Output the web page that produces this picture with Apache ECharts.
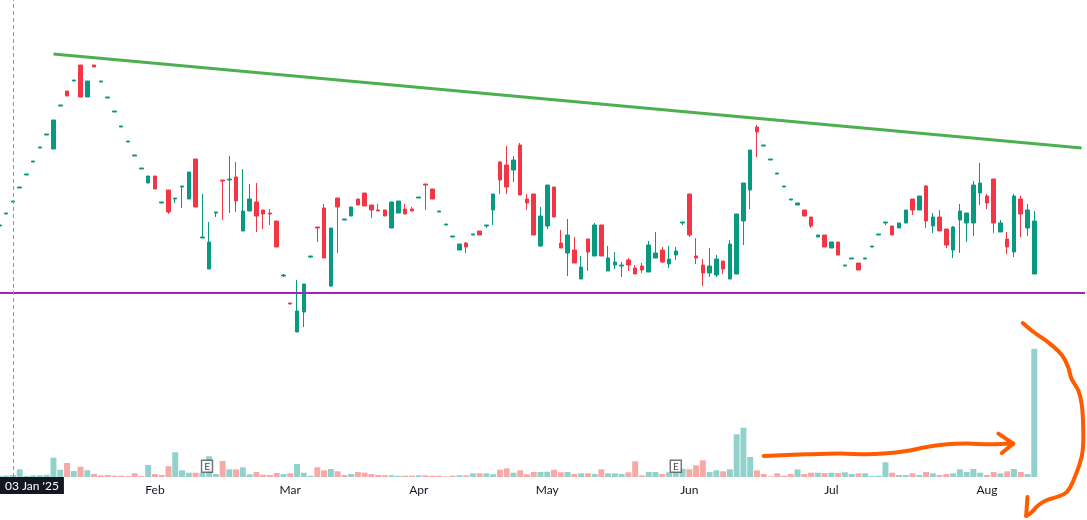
<!DOCTYPE html>
<html>
<head>
<meta charset="utf-8">
<script src="https://cdn.jsdelivr.net/npm/echarts@6/dist/echarts.min.js"></script>
<style>
html, body { margin: 0; padding: 0; background: #fff; }
#chart { width: 1087px; height: 520px; }
</style>
</head>
<body>
<div id="chart"></div>
<script>
// trading days per month (NSE calendar, incl. the Feb 1 budget session), last 7 are empty future slots
var monthDays = [
    ['2025-01', [1,2,3,6,7,8,9,10,13,14,15,16,17,20,21,22,23,24,27,28,29,30,31]],
    ['2025-02', [1,3,4,5,6,7,10,11,12,13,14,17,18,19,20,21,24,25,27,28]],
    ['2025-03', [3,4,5,6,7,10,11,12,13,17,18,19,20,21,24,25,26,27,28]],
    ['2025-04', [1,2,3,4,7,8,9,11,15,16,17,21,22,23,24,25,28,29,30]],
    ['2025-05', [2,5,6,7,8,9,12,13,14,15,16,19,20,21,22,23,26,27,28,29,30]],
    ['2025-06', [2,3,4,5,6,9,10,11,12,13,16,17,18,19,20,23,24,25,26,27,30]],
    ['2025-07', [1,2,3,4,7,8,9,10,11,14,15,16,17,18,21,22,23,24,25,28,29,30,31]],
    ['2025-08', [1,4,5,6,7,8,11,12,13,14,18,19,20,21,22]]
];
var monthNames = ['Jan','Feb','Mar','Apr','May','Jun','Jul','Aug','Sep','Oct','Nov','Dec'];

var open = [
    1174,1186,1198,1212,1225,1238,1252,1265,1251,1294,
    1309,1319,1335,1303,1335,1318,1302,1288,1273,1258,
    1244,1231,1217,1224,1197,1210,1201,1213,1201,1241,
    1162,1131,1187,1220,1220,1223,1169,1189,1198,1190,
    1187,1179,1124,1097,1068,1088,1143,1173,1192,1114,
    1202,1180,1184,1201,1207,1195,1190,1190,1172,1187,
    1191,1191,1202,1216,1211,1188,1175,1163,1150,1157,
    1165,1169,1174,1190,1238,1235,1230,1255,1201,1206,
    1154,1174,1213,1157,1147,1150,1121,1161,1144,1175,
    1129,1135,1134,1140,1132,1134,1128,1142,1150,1136,
    1145,1177,1206,1144,1135,1127,1125,1139,1121,1126,
    1179,1210,1273,1254,1240,1226,1213,1200,1195,1190,
    1183,1163,1165,1152,1158,1134,1141,1137,1141,1153,
    1165,1177,1174,1172,1177,1201,1190,1214,1174,1183,
    1171,1150,1180,1177,1177,1207,1204,1221,1168,1161,
    1148,1201,1172,1126
];
var close = [
    1175,1187,1199,1213,1226,1239,1253,1266,1280,1295,
    1304,1320,1303,1319,1333,1319,1303,1289,1274,1259,
    1245,1232,1224,1211,1198,1188,1202,1214,1228,1193,
    1163,1158,1188,1219,1221,1199,1189,1201,1184,1186,
    1186,1153,1125,1096,1089,1116,1144,1172,1142,1172,
    1193,1181,1193,1195,1194,1190,1189,1184,1198,1199,
    1186,1189,1203,1215,1201,1189,1176,1164,1156,1153,
    1166,1165,1175,1206,1220,1213,1240,1205,1197,1165,
    1184,1215,1183,1152,1165,1137,1133,1148,1175,1144,
    1142,1138,1135,1135,1126,1130,1155,1147,1138,1141,
    1149,1178,1165,1142,1127,1134,1141,1131,1156,1186,
    1217,1250,1268,1255,1241,1227,1214,1201,1197,1184,
    1174,1165,1153,1158,1145,1135,1142,1130,1142,1154,
    1166,1178,1165,1177,1190,1190,1204,1179,1183,1169,
    1155,1173,1189,1187,1215,1217,1197,1177,1177,1153,
    1204,1186,1190,1179
];
var low = [
    1174,1186,1198,1212,1225,1238,1252,1265,1251,1294,
    1304,1319,1303,1303,1333,1318,1302,1288,1273,1258,
    1244,1231,1217,1211,1197,1186,1197,1192,1201,1193,
    1162,1131,1183,1180,1187,1188,1169,1189,1168,1171,
    1175,1153,1123,1096,1068,1073,1142,1158,1142,1113,
    1147,1180,1184,1195,1194,1182,1189,1184,1172,1187,
    1186,1189,1202,1190,1201,1188,1175,1163,1150,1147,
    1165,1165,1172,1175,1206,1206,1218,1205,1190,1165,
    1153,1171,1183,1152,1124,1137,1121,1129,1144,1144,
    1129,1131,1123,1129,1126,1127,1128,1142,1137,1132,
    1140,1175,1163,1136,1114,1123,1123,1126,1121,1126,
    1155,1191,1243,1254,1240,1226,1213,1200,1195,1184,
    1172,1163,1153,1152,1145,1134,1141,1130,1141,1153,
    1165,1175,1165,1172,1177,1185,1190,1172,1167,1169,
    1152,1142,1147,1158,1164,1195,1191,1167,1168,1146,
    1143,1163,1164,1126
];
var high = [
    1175,1187,1199,1213,1226,1239,1253,1266,1280,1295,
    1309,1320,1335,1319,1335,1319,1303,1289,1274,1259,
    1245,1232,1224,1224,1198,1210,1202,1214,1228,1241,
    1206,1178,1188,1220,1244,1238,1231,1216,1217,1190,
    1191,1179,1126,1097,1120,1116,1144,1173,1196,1172,
    1202,1181,1193,1201,1207,1195,1196,1190,1198,1199,
    1196,1193,1203,1216,1211,1189,1176,1164,1156,1158,
    1166,1169,1175,1206,1239,1254,1244,1257,1206,1206,
    1193,1215,1213,1170,1181,1163,1144,1161,1177,1175,
    1154,1148,1138,1142,1135,1137,1159,1168,1153,1154,
    1153,1178,1206,1162,1141,1152,1145,1139,1160,1186,
    1217,1250,1275,1255,1241,1227,1214,1201,1197,1190,
    1183,1165,1165,1158,1158,1135,1142,1137,1142,1154,
    1166,1178,1174,1177,1190,1201,1204,1215,1187,1190,
    1171,1174,1196,1187,1219,1237,1206,1221,1180,1168,
    1206,1204,1196,1189
];
// volume in thousands
var volume = [
    20,30,40,154,20,34,34,46,386,146,
    280,120,206,134,60,34,40,26,26,20,
    74,20,240,60,40,214,494,134,86,86,
    80,414,60,320,154,154,194,54,100,46,
    40,80,60,74,260,86,26,194,134,160,
    114,40,60,100,86,60,40,36,34,26,
    26,26,34,34,26,26,14,26,34,34,
    74,74,74,54,146,174,86,134,54,100,
    100,106,146,94,100,60,74,74,60,154,
    74,74,60,94,314,34,100,100,60,94,
    94,166,154,234,334,100,134,114,154,854,
    986,400,134,60,14,74,26,60,154,60,
    86,86,80,86,80,94,60,74,74,20,
    26,294,86,40,40,74,40,100,74,40,
    60,74,154,100,160,86,40,100,74,114,
    160,100,60,2566
];
// 1 = up-coloured volume bar, 0 = down
var volUp = [
    1,1,1,1,1,1,1,1,1,1, 0,1,0,1,0,0,0,0,0,0,
    0,0,1,0,0,0,1,1,1,0, 1,1,1,0,1,0,1,1,0,0,
    0,0,1,0,1,1,1,0,0,1, 0,0,1,0,0,0,0,0,1,1,
    0,0,1,0,0,0,0,0,1,0, 1,0,1,1,0,0,1,0,0,0,
    1,1,0,0,1,0,1,0,1,0, 1,1,1,0,0,0,1,1,0,1,
    1,1,0,0,0,1,1,0,1,1, 1,1,0,0,0,0,0,0,1,0,
    0,1,0,1,0,1,1,0,1,1, 1,1,0,1,1,0,1,0,1,0,
    0,1,1,1,1,1,0,0,1,0, 1,0,1,1
];

var supportLevel = 1107;
var trendStart = [8, 1346];      // [bar index, price]
var trendEnd = [160, 1252];
var crosshairIndex = 2;
var earningsMarks = [[30.7, 214], [100, 214]];   // [bar index, volume-scale height]

// hand drawn annotations, in [bar index, volume-scale] units
var arrowStroke = [[113.0,420],[119.4,454],[124.3,468],[128.2,454],[130.7,468],[134.1,520],
    [137.1,600],[140.1,654],[143.0,668],[146.5,654],[149.9,668]];
var arrowHead = [[147.7,868],[149.9,668],[148.2,480]];
var curveStroke = [[151.3,3080],[152.9,2900],[155.3,2668],[157.1,2434],[158.0,2200],[158.5,1968],
    [159.5,1734],[160.0,1468],[160.2,1134],[160.25,734],[160.0,400],[159.0,0],[157.8,-300],
    [156.3,-400],[154.8,-466],[153.6,-566],[152.4,-732],[151.8,-776]];
var curveHead = [[152.0,-400],[151.8,-776]];

var UP = '#089981', DOWN = '#F23645';
var UP_VOL = '#92d2cc', DOWN_VOL = '#f7a9a8';
var ORANGE = '#ff5c00';
var FONT = 'Lato';

var dates = [];
monthDays.forEach(function (m) {
    m[1].forEach(function (d) { dates.push(m[0] + '-' + (d < 10 ? '0' + d : d)); });
});

function isMonthStart(i) {
    return i > 0 && dates[i].slice(5, 7) !== dates[i - 1].slice(5, 7);
}

var candles = open.map(function (o, i) { return [o, close[i], low[i], high[i]]; });
var volBars = volume.map(function (v, i) {
    return { value: v, itemStyle: { color: volUp[i] ? UP_VOL : DOWN_VOL } };
});

function annotation(points, smooth) {
    return {
        type: 'line', xAxisIndex: 2, yAxisIndex: 2,
        data: points, smooth: smooth, symbol: 'none', clip: false, silent: true, z: 10,
        lineStyle: { color: ORANGE, width: 4, cap: 'round', join: 'round' }
    };
}

var myChart = echarts.init(document.getElementById('chart'));
option = {
    animation: false,
    backgroundColor: '#fff',
    textStyle: { fontFamily: FONT },
    grid: [
        // price pane reaches down to the volume baseline so the crosshair line is one piece
        { left: -4, right: 2, top: 0, height: 477, outerBoundsMode: 'none' },
        { left: -4, right: 2, top: 340, height: 137, outerBoundsMode: 'none' },
        { left: -4, right: 2, top: 317, height: 160, outerBoundsMode: 'none' }
    ],
    xAxis: [
        {
            type: 'category', gridIndex: 0, data: dates, boundaryGap: true,
            axisLine: { show: false }, axisTick: { show: false }, axisLabel: { show: false },
            splitLine: { show: false },
            axisPointer: {
                show: true, status: 'show', value: dates[crosshairIndex], triggerTooltip: false,
                lineStyle: { color: '#9598a1', width: 1, type: [4, 3] },
                label: { show: false }
            }
        },
        {
            type: 'category', gridIndex: 1, data: dates, boundaryGap: true,
            axisLine: { show: false }, axisTick: { show: false }, splitLine: { show: false },
            axisLabel: {
                color: '#131722', fontFamily: FONT, fontSize: 12, margin: 7,
                interval: function (i) { return isMonthStart(i); },
                formatter: function (v) { return monthNames[+v.slice(5, 7) - 1]; }
            },
            axisPointer: {
                show: true, status: 'show', value: dates[crosshairIndex], triggerTooltip: false,
                lineStyle: { opacity: 0 },
                label: {
                    show: true, margin: 0, backgroundColor: '#131722', color: '#fff',
                    fontFamily: FONT, fontSize: 12, padding: [3, 5, 2, 5], borderRadius: 0,
                    formatter: function (p) {
                        var v = p.value;
                        return v.slice(8) + ' ' + monthNames[+v.slice(5, 7) - 1] + " '" + v.slice(2, 4);
                    }
                }
            }
        },
        { type: 'value', gridIndex: 2, min: -0.5, max: dates.length - 0.5, show: false }
    ],
    yAxis: [
        { type: 'value', gridIndex: 0, min: 923, max: 1400, show: false },
        { type: 'value', gridIndex: 1, min: 0, max: 2740, show: false },
        { type: 'value', gridIndex: 2, min: 0, max: 3200, show: false }
    ],
    series: [
        {
            type: 'candlestick', xAxisIndex: 0, yAxisIndex: 0,
            data: candles, barWidth: 4,
            itemStyle: { color: UP, color0: DOWN, borderColor: UP, borderColor0: DOWN, borderWidth: 1 },
            markLine: {
                silent: true, symbol: ['none', 'none'], label: { show: false },
                data: [
                    { yAxis: supportLevel, lineStyle: { color: '#9c27b0', width: 2, type: 'solid' } },
                    [
                        { coord: [dates[trendStart[0]], trendStart[1]], lineStyle: { color: '#4caf50', width: 3, type: 'solid' } },
                        { coord: [dates[trendEnd[0]], trendEnd[1]] }
                    ]
                ]
            }
        },
        {
            type: 'bar', xAxisIndex: 1, yAxisIndex: 1,
            data: volBars, barWidth: '88%'
        },
        {
            type: 'scatter', xAxisIndex: 2, yAxisIndex: 2, z: 5, silent: true,
            data: earningsMarks, symbol: 'rect', symbolSize: [11, 12],
            itemStyle: { color: '#fff', borderColor: '#50535e', borderWidth: 1.5 },
            label: { show: true, position: 'inside', formatter: 'E', color: '#131722', fontSize: 10, fontFamily: FONT }
        },
        annotation(arrowStroke, 0.4),
        annotation(arrowHead, false),
        annotation(curveStroke, 0.4),
        annotation(curveHead, false)
    ]
};
myChart.setOption(option);
</script>
</body>
</html>
